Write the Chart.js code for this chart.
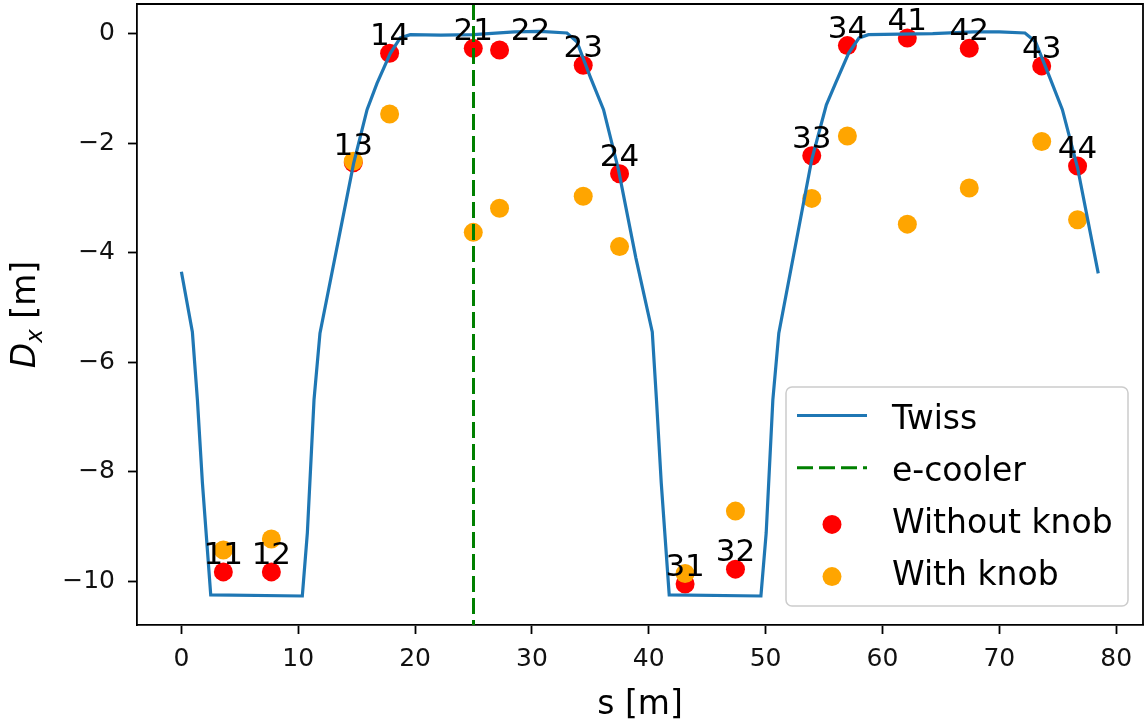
<!DOCTYPE html>
<html>
<head>
<meta charset="utf-8">
<script src="https://cdn.jsdelivr.net/npm/chart.js@4.4.1/dist/chart.umd.min.js"></script>
<style>
  html, body { margin: 0; padding: 0; background: #fff; }
  canvas { display: block; }
</style>
</head>
<body>
<canvas id="dx" width="1146" height="721"></canvas>
<script>
// Twiss dispersion curve (s [m], Dx [m])
const twissS = [0, 0.94, 1.37, 1.80, 2.51, 10.35, 10.78, 11.35, 11.86, 14.74, 15.89, 16.74, 17.88, 18.73, 19.59,
  22.2, 25.0, 28.5, 30.7, 33.0, 33.85, 34.99, 36.13, 37.41, 38.9,
  40.3, 40.66, 41.07, 41.75, 49.6, 50.05, 50.62, 51.13, 53.95, 55.2, 56.0, 57.1, 58.0, 58.8,
  61.5, 64.3, 67.8, 70.0, 72.2, 73.1, 74.3, 75.4, 76.7, 78.47];
const twissD = [-4.35, -5.45, -6.69, -8.21, -10.25, -10.27, -9.12, -6.69, -5.47, -2.37, -1.39, -0.91, -0.36, -0.08, -0.02,
  -0.03, -0.02, 0.03, 0.04, 0.01, -0.15, -0.79, -1.39, -2.49, -4.1,
  -5.45, -6.69, -8.21, -10.25, -10.27, -9.12, -6.69, -5.47, -2.3, -1.3, -0.9, -0.36, -0.08, -0.02,
  -0.01, 0.0, 0.03, 0.03, 0.01, -0.15, -0.79, -1.39, -2.45, -4.38];

// BPM measurements
const bpmNames = ['11', '12', '13', '14', '21', '22', '23', '24', '31', '32', '33', '34', '41', '42', '43', '44'];
const bpmS = [3.59, 7.70, 14.71, 17.82, 24.98, 27.23, 34.39, 37.5, 43.11, 47.42, 53.95, 57.0, 62.13, 67.43, 73.63, 76.7];
const withoutKnob = [-9.83, -9.83, -2.36, -0.36, -0.27, -0.30, -0.58, -2.56, -10.05, -9.78, -2.23, -0.22, -0.08, -0.27, -0.59, -2.42];
const withKnob = [-9.43, -9.23, -2.33, -1.47, -3.63, -3.19, -2.97, -3.89, -9.86, -8.72, -3.01, -1.87, -3.48, -2.82, -1.97, -3.40];

const ecoolerS = 25;

const xTicks = [0, 10, 20, 30, 40, 50, 60, 70, 80];
const yTicks = [0, -2, -4, -6, -8, -10];

const FONT = '"DejaVu Sans", sans-serif';
const BLUE = '#1f77b4';
const GREEN = '#008000';
const RED = '#ff0000';
const ORANGE = '#ffa500';

const toXY = (xs, ys) => xs.map((x, i) => ({ x: x, y: ys[i] }));

// fixed axis box sizes, no extra label padding
const fixBox = size => s => {
  if (s.isHorizontal()) s.height = size; else s.width = size;
  s.paddingTop = s.paddingBottom = s.paddingLeft = s.paddingRight = 0;
};

// label nudges (px) so that neighbouring names don't overlap
const labelShift = { '22': [31, -2] };

// extra drawing: frame, e-cooler line, BPM labels, legend, axis titles
const extras = {
  id: 'extras',
  afterDatasetsDraw(chart) {
    const ctx = chart.ctx;
    const a = chart.chartArea;
    const xs = chart.scales.x;

    ctx.save();
    // e-cooler
    const ex = xs.getPixelForValue(ecoolerS);
    ctx.strokeStyle = GREEN;
    ctx.lineWidth = 3;
    ctx.setLineDash([16, 6]);
    ctx.beginPath();
    ctx.moveTo(ex, a.top);
    ctx.lineTo(ex, a.bottom);
    ctx.stroke();
    ctx.setLineDash([]);

    // BPM labels at "without knob" points
    const meta = chart.getDatasetMeta(2);
    ctx.fillStyle = '#000';
    ctx.font = '31px ' + FONT;
    ctx.textAlign = 'center';
    ctx.textBaseline = 'alphabetic';
    meta.data.forEach((pt, i) => {
      const sh = labelShift[bpmNames[i]] || [0, 0];
      ctx.fillText(bpmNames[i], pt.x + sh[0], pt.y - 8 + sh[1]);
    });

    // top / right spines
    ctx.strokeStyle = '#000';
    ctx.lineWidth = 1.8;
    ctx.beginPath();
    ctx.moveTo(a.left, a.top);
    ctx.lineTo(a.right, a.top);
    ctx.lineTo(a.right, a.bottom);
    ctx.stroke();

    // legend
    const bw = 342, bh = 219;
    const bx = a.right - 15 - bw, by = a.bottom - 19 - bh;
    ctx.beginPath();
    ctx.roundRect(bx, by, bw, bh, 6);
    ctx.fillStyle = 'rgba(255,255,255,0.8)';
    ctx.fill();
    ctx.strokeStyle = '#cccccc';
    ctx.lineWidth = 1.5;
    ctx.stroke();

    const rows = [
      { label: 'Twiss', kind: 'line', color: BLUE },
      { label: 'e-cooler', kind: 'dash', color: GREEN },
      { label: 'Without knob', kind: 'dot', color: RED },
      { label: 'With knob', kind: 'dot', color: ORANGE }
    ];
    ctx.font = '33px ' + FONT;
    ctx.textAlign = 'left';
    rows.forEach((r, i) => {
      const base = by + 41.5 + i * 52.2;
      if (r.kind === 'dot') {
        ctx.fillStyle = r.color;
        ctx.beginPath();
        ctx.arc(bx + 46, base - 8.5, 9.5, 0, Math.PI * 2);
        ctx.fill();
      } else {
        ctx.strokeStyle = r.color;
        ctx.lineWidth = 3;
        ctx.setLineDash(r.kind === 'dash' ? [16, 6] : []);
        ctx.beginPath();
        ctx.moveTo(bx + 11, base - 13);
        ctx.lineTo(bx + 81, base - 13);
        ctx.stroke();
        ctx.setLineDash([]);
      }
      ctx.fillStyle = '#000';
      ctx.fillText(r.label, bx + 106, base);
    });

    // x title
    ctx.fillStyle = '#000';
    ctx.font = '33px ' + FONT;
    ctx.textAlign = 'center';
    ctx.fillText('s [m]', (a.left + a.right) / 2, 714);

    // y title: D_x [m]
    ctx.translate(35, (a.top + a.bottom) / 2);
    ctx.rotate(-Math.PI / 2);
    ctx.textAlign = 'left';
    const fD = 'italic 33px ' + FONT, fx = 'italic 23px ' + FONT, fm = '33px ' + FONT;
    ctx.font = fD; const wD = ctx.measureText('D').width;
    ctx.font = fx; const wx = ctx.measureText('x').width;
    ctx.font = fm; const wm = ctx.measureText(' [m]').width;
    let cx = -(wD + wx + wm) / 2;
    ctx.font = fD; ctx.fillText('D', cx, 0); cx += wD;
    ctx.font = fx; ctx.fillText('x', cx, 7); cx += wx;
    ctx.font = fm; ctx.fillText(' [m]', cx, 0);
    ctx.restore();
  }
};

new Chart(document.getElementById('dx'), {
  type: 'scatter',
  data: {
    datasets: [
      {
        label: 'Twiss',
        data: toXY(twissS, twissD),
        showLine: true,
        borderColor: BLUE,
        borderWidth: 3.2,
        pointRadius: 0,
        fill: false,
        order: 1
      },
      {
        label: 'With knob',
        data: toXY(bpmS, withKnob),
        backgroundColor: ORANGE,
        borderWidth: 0,
        pointRadius: 9.5,
        order: 2
      },
      {
        label: 'Without knob',
        data: toXY(bpmS, withoutKnob),
        backgroundColor: RED,
        borderWidth: 0,
        pointRadius: 9.5,
        order: 3
      }
    ]
  },
  options: {
    responsive: false,
    animation: false,
    devicePixelRatio: 1,
    layout: { autoPadding: false, padding: { top: 4, right: 3, left: 0, bottom: 0 } },
    plugins: {
      legend: { display: false },
      tooltip: { enabled: false }
    },
    scales: {
      x: {
        type: 'linear',
        min: -3.8,
        max: 82.3,
        afterBuildTicks: s => { s.ticks = xTicks.map(v => ({ value: v })); },
        afterFit: fixBox(96),
        grid: { drawOnChartArea: false, drawTicks: true, tickLength: 9, tickWidth: 1.8, tickColor: '#000' },
        border: { display: true, color: '#000', width: 1.8 },
        ticks: { color: '#111', font: { family: FONT, size: 25 }, padding: 10, maxRotation: 0, autoSkip: false }
      },
      y: {
        type: 'linear',
        min: -10.8,
        max: 0.54,
        afterBuildTicks: s => { s.ticks = yTicks.map(v => ({ value: v })); },
        afterFit: fixBox(137),
        grid: { drawOnChartArea: false, drawTicks: true, tickLength: 9, tickWidth: 1.8, tickColor: '#000' },
        border: { display: true, color: '#000', width: 1.8 },
        ticks: {
          color: '#111',
          font: { family: FONT, size: 25 },
          padding: 13,
          autoSkip: false,
          callback: v => String(v).replace('-', '\u2212')
        }
      }
    }
  },
  plugins: [extras]
});
</script>
</body>
</html>
